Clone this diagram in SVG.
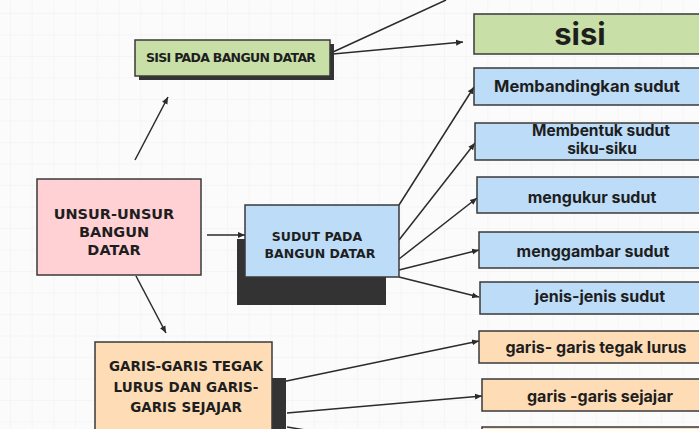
<svg xmlns="http://www.w3.org/2000/svg" width="699" height="429" viewBox="0 0 699 429">
<defs>
<pattern id="grid" width="21.7" height="21.5" patternUnits="userSpaceOnUse" x="10" y="13">
<path d="M0 0H21.7M0 0V21.5" fill="none" stroke="#efefef" stroke-width="1"/>
</pattern>
<marker id="ah" markerWidth="8" markerHeight="8" refX="7" refY="4" orient="auto" markerUnits="userSpaceOnUse">
<path d="M0 1 L7 4 L0 7 Z" fill="#2b2b2b"/>
</marker>
<style>
.bx{stroke:#3a3a3a;stroke-width:1.5}
.sh{fill:#333333}
.g{fill:#c8dfa7}
.b{fill:#bddcf7}
.p{fill:#fddcb6}
.k{fill:#ffd1d4}
.up{font-family:"DejaVu Sans","Liberation Sans",sans-serif;font-weight:700;fill:#1e1e1e;text-anchor:middle}
.lo{font-family:"Inter","Liberation Sans",sans-serif;font-weight:700;fill:#1e1e1e;text-anchor:middle}
.cn{stroke:#2b2b2b;stroke-width:1.5;fill:none}
</style>
</defs>
<rect width="699" height="429" fill="#fbfbfb"/>
<rect width="699" height="429" fill="url(#grid)"/>

<g id="connectors">
<line class="cn" x1="135" y1="160" x2="168" y2="97" marker-end="url(#ah)"/>
<line class="cn" x1="333" y1="52" x2="446" y2="0"/>
<line class="cn" x1="333" y1="54" x2="463" y2="42" marker-end="url(#ah)"/>
<line class="cn" x1="207" y1="235" x2="245" y2="235" marker-end="url(#ah)"/>
<line class="cn" x1="136" y1="276" x2="166" y2="333" marker-end="url(#ah)"/>
<line class="cn" x1="399" y1="205" x2="474" y2="87" marker-end="url(#ah)"/>
<line class="cn" x1="399" y1="240" x2="475" y2="143" marker-end="url(#ah)"/>
<line class="cn" x1="399" y1="259" x2="477" y2="198" marker-end="url(#ah)"/>
<line class="cn" x1="399" y1="270" x2="479" y2="250" marker-end="url(#ah)"/>
<line class="cn" x1="399" y1="277" x2="479" y2="297" marker-end="url(#ah)"/>
<line class="cn" x1="277" y1="383" x2="479" y2="341" marker-end="url(#ah)"/>
<line class="cn" x1="287" y1="413" x2="482" y2="396" marker-end="url(#ah)"/>
<line class="cn" x1="287" y1="427" x2="330" y2="434"/>
</g>

<g id="sisi-pada-bangun-datar">
<rect class="sh" x="139" y="44" width="195" height="36"/>
<rect class="bx g" x="135" y="40" width="195" height="36"/>
<text class="up" x="231" y="62" font-size="12.5" textLength="170">SISI PADA BANGUN DATAR</text>
</g>

<g id="sisi">
<rect class="bx g" x="474" y="14" width="240" height="40"/>
<text class="lo" x="580" y="45" font-size="31" font-weight="800">sisi</text>
</g>

<g id="membandingkan-sudut">
<rect class="bx b" x="474" y="68" width="240" height="37"/>
<text class="lo" x="587" y="92" font-size="16.5">Membandingkan sudut</text>
</g>

<g id="membentuk-sudut">
<rect class="bx b" x="475" y="123" width="240" height="37"/>
<text class="lo" x="601" y="136" font-size="15.5">Membentuk sudut</text>
<text class="lo" x="602" y="154" font-size="15.5">siku-siku</text>
</g>

<g id="mengukur-sudut">
<rect class="bx b" x="477" y="177" width="240" height="36"/>
<text class="lo" x="592" y="203" font-size="16">mengukur sudut</text>
</g>

<g id="menggambar-sudut">
<rect class="bx b" x="479" y="232" width="240" height="36"/>
<text class="lo" x="593" y="257" font-size="16">menggambar sudut</text>
</g>

<g id="jenis-jenis-sudut">
<rect class="bx b" x="480" y="282" width="240" height="32"/>
<text class="lo" x="600" y="302" font-size="16">jenis-jenis sudut</text>
</g>

<g id="garis-tegak-lurus">
<rect class="bx p" x="479" y="331" width="240" height="32"/>
<text class="lo" x="596" y="353" font-size="16">garis- garis tegak lurus</text>
</g>

<g id="garis-sejajar">
<rect class="bx p" x="482" y="379" width="240" height="32"/>
<text class="lo" x="600" y="402" font-size="16">garis -garis sejajar</text>
</g>

<g id="bottom-box">
<rect class="bx p" x="482" y="427" width="240" height="30" stroke="#5a4030"/>
</g>

<g id="unsur-unsur">
<rect class="bx k" x="37" y="179" width="164" height="96"/>
<text class="up" x="114" y="219" font-size="14.5">UNSUR-UNSUR</text>
<text class="up" x="114" y="237" font-size="14.5">BANGUN</text>
<text class="up" x="114" y="255" font-size="14.5">DATAR</text>
</g>

<g id="sudut-pada-bangun-datar">
<rect class="sh" x="237" y="239" width="149" height="66"/>
<rect class="bx b" x="245" y="205" width="154" height="72"/>
<text class="up" x="317" y="241" font-size="12.5">SUDUT PADA</text>
<text class="up" x="320" y="258" font-size="12.5">BANGUN DATAR</text>
</g>

<g id="garis-garis">
<rect class="sh" x="270" y="378" width="16" height="60"/>
<rect class="bx p" x="95" y="342" width="177" height="95"/>
<text class="up" x="186" y="371" font-size="13.5">GARIS-GARIS TEGAK</text>
<text class="up" x="186" y="392" font-size="13.5">LURUS DAN GARIS-</text>
<text class="up" x="186" y="412" font-size="13.5">GARIS SEJAJAR</text>
</g>
</svg>
